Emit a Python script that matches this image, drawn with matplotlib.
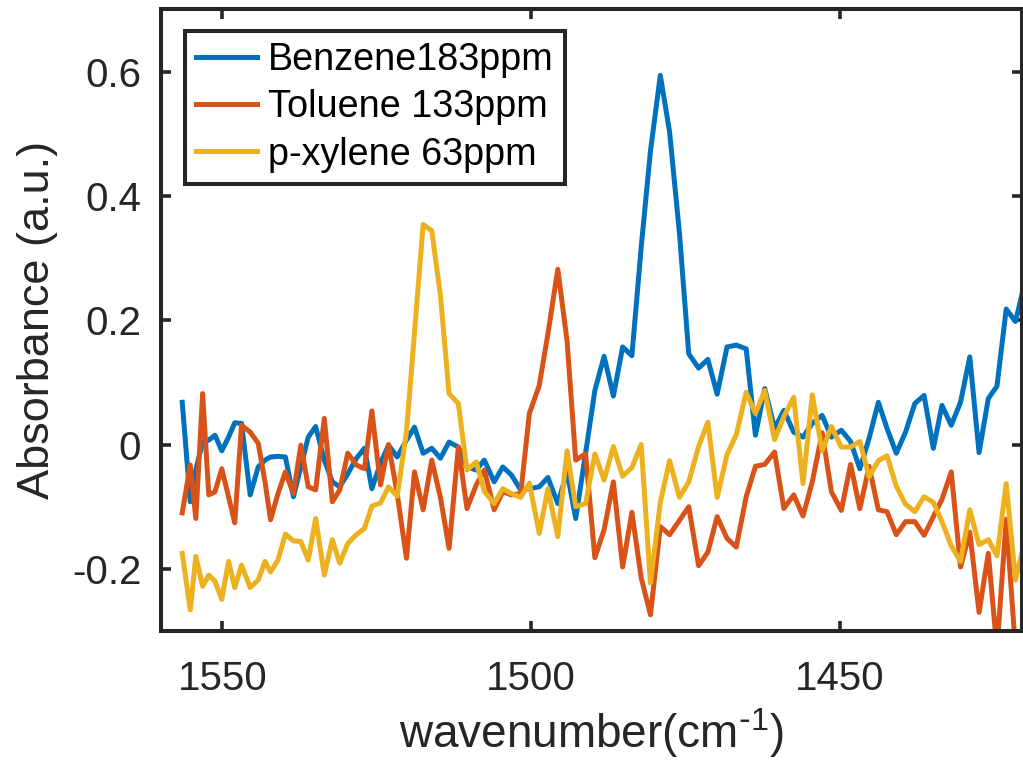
import numpy as np
import matplotlib
matplotlib.use('Agg')
import matplotlib.pyplot as plt
from matplotlib.ticker import FuncFormatter

# MATLAB-ish look: Arial metrics, hyphen minus, regular mathtext
plt.rcParams['font.family'] = ['Liberation Sans', 'DejaVu Sans']
plt.rcParams['mathtext.default'] = 'regular'
plt.rcParams['axes.unicode_minus'] = False

# ---------- data ----------
wavenumber = [1556.5, 1555.2, 1554.3, 1553.2, 1552.2, 1551.2, 1550.1, 1549.0, 1548.0, 1546.9,
              1545.5, 1544.2, 1543.1, 1542.2, 1541.0, 1539.8, 1538.5, 1537.3, 1536.1, 1534.9,
              1533.5, 1532.2, 1531.0, 1529.7, 1528.3, 1527.0, 1525.8, 1524.4, 1523.1, 1521.7,
              1520.2, 1518.9, 1517.5, 1516.1, 1514.7, 1513.3, 1511.8, 1510.4, 1508.9, 1507.6,
              1506.0, 1504.6, 1503.2, 1501.7, 1500.3, 1498.7, 1497.3, 1495.7,
              1494.2, 1492.8, 1491.2, 1489.7, 1488.2, 1486.7, 1485.2, 1483.7, 1482.2, 1480.7, 1479.1,
              1477.6, 1476.0, 1474.5, 1472.9, 1471.4, 1469.9, 1468.3, 1466.8, 1465.2, 1463.7,
              1462.2, 1460.6, 1459.1, 1457.5, 1456.0, 1454.5, 1452.9, 1451.4, 1449.8, 1448.3, 1446.8,
              1445.3, 1443.8, 1442.4, 1440.9, 1439.4, 1437.9, 1436.4, 1434.9, 1433.5, 1432.0,
              1430.5, 1429.0, 1427.5, 1426.0, 1424.6, 1423.1, 1421.6, 1420.1]

benzene = [0.068, -0.092, -0.041, 0.004, 0.007, 0.015, -0.010, 0.012, 0.035, 0.034,
           -0.081, -0.036, -0.025, -0.020, -0.019, -0.020, -0.084, -0.036, 0.012, 0.029,
           -0.025, -0.060, -0.068, -0.047, -0.022, -0.006, -0.071, -0.030, -0.001, -0.020,
           0.007, 0.028, -0.014, -0.006, -0.022, 0.004, -0.004, -0.036, -0.041, -0.025,
           -0.060, -0.036, -0.049, -0.073, -0.071, -0.068, -0.053, -0.095,
           -0.044, -0.119, -0.014, 0.087, 0.142, 0.078, 0.157, 0.143, 0.317, 0.472, 0.594,
           0.503, 0.340, 0.146, 0.123, 0.137, 0.081, 0.157, 0.160, 0.154, 0.015,
           0.090, 0.026, 0.055, 0.020, 0.012, 0.034, 0.047, 0.012, 0.023, 0.005, -0.039,
           0.010, 0.068, 0.026, -0.014, 0.020, 0.066, 0.079, -0.006, 0.063, 0.031,
           0.068, 0.141, -0.013, 0.074, 0.094, 0.218, 0.198, 0.260]

toluene = [-0.110, -0.033, -0.119, 0.082, -0.081, -0.076, -0.039, -0.084, -0.126, 0.031,
           0.020, 0.002, -0.060, -0.121, -0.079, -0.044, -0.079, -0.001, -0.068, -0.073,
           0.042, -0.092, -0.073, -0.014, -0.033, -0.039, 0.054, -0.065, 0.000, -0.079,
           -0.183, -0.044, -0.105, -0.025, -0.085, -0.167, -0.004, -0.103, -0.065, -0.041,
           -0.105, -0.076, -0.081, -0.079, 0.050, 0.095, 0.178, 0.282,
           0.167, -0.025, -0.015, -0.182, -0.137, -0.060, -0.197, -0.109, -0.214, -0.274, -0.132,
           -0.145, -0.122, -0.100, -0.195, -0.173, -0.116, -0.151, -0.165, -0.084, -0.035,
           -0.032, -0.012, -0.103, -0.081, -0.115, -0.060, 0.019, -0.076, -0.106, -0.032, -0.103,
           -0.035, -0.105, -0.108, -0.145, -0.124, -0.124, -0.146, -0.116, -0.088, -0.044,
           -0.197, -0.141, -0.270, -0.175, -0.330, -0.120, -0.330, -0.320]

pxylene = [-0.175, -0.266, -0.180, -0.228, -0.210, -0.220, -0.249, -0.188, -0.230, -0.194,
           -0.230, -0.218, -0.188, -0.205, -0.186, -0.144, -0.155, -0.156, -0.186, -0.119,
           -0.210, -0.153, -0.191, -0.159, -0.145, -0.135, -0.099, -0.094, -0.068, -0.083,
           0.020, 0.180, 0.354, 0.344, 0.240, 0.082, 0.066, -0.041, -0.028, -0.075,
           -0.095, -0.071, -0.079, -0.085, -0.062, -0.143, -0.071, -0.148,
           -0.010, -0.100, -0.095, -0.015, -0.057, -0.003, -0.051, -0.037, 0.000, -0.223, -0.093,
           -0.026, -0.085, -0.060, -0.003, 0.036, -0.085, -0.016, 0.016, 0.084, 0.050,
           0.087, 0.008, 0.045, 0.076, -0.063, 0.080, -0.010, 0.029, -0.004, -0.004, 0.005,
           -0.052, -0.026, -0.018, -0.067, -0.096, -0.108, -0.084, -0.093, -0.124, -0.163,
           -0.188, -0.105, -0.161, -0.153, -0.179, -0.063, -0.218, -0.155]

labels = ['Benzene183ppm', 'Toluene 133ppm', 'p-xylene 63ppm']
colors = ['#0072BD', '#D95319', '#EDB120']
xticks = [1550, 1500, 1450]
yticks = [-0.2, 0, 0.2, 0.4, 0.6]

# ---------- figure ----------
fig = plt.figure(figsize=(10.23, 7.70), dpi=100)
ax = fig.add_axes([0.157, 0.1805, 0.8423, 0.8072])
for y, lab, c in zip([benzene, toluene, pxylene], labels, colors):
    ax.plot(wavenumber, y, color=c, lw=3.6, label=lab)

ax.set_xlim(1560, 1420.5)
ax.set_ylim(-0.3, 0.7)
ax.set_xticks(xticks)
ax.set_yticks(yticks)
ax.yaxis.set_major_formatter(FuncFormatter(lambda v, p: '%g' % v))

dark = '#262626'
for s in ax.spines.values():
    s.set_linewidth(2.9); s.set_color(dark)
ax.tick_params(direction='in', length=7.5, width=2.6, top=True, right=True,
               labelsize=29, colors=dark, labelcolor=dark)
ax.tick_params(axis='y', pad=14)
ax.tick_params(axis='x', pad=21)

ax.set_xlabel(r'wavenumber(cm$^{\text{-}1}$)', fontsize=33, color=dark, labelpad=6)
ax.set_ylabel('Absorbance (a.u.)', fontsize=32.5, color=dark, labelpad=10)

leg = ax.legend(loc='upper left', bbox_to_anchor=(0.028, 0.966), fontsize=27.2,
                fancybox=False, edgecolor=dark, framealpha=1, handlelength=1.6,
                handletextpad=0.3, borderpad=0.3, labelspacing=0.3, borderaxespad=0)
leg.get_frame().set_linewidth(2.9)
for h in leg.get_lines():
    h.set_linewidth(3.6)

fig.savefig('out.png', dpi=100)
